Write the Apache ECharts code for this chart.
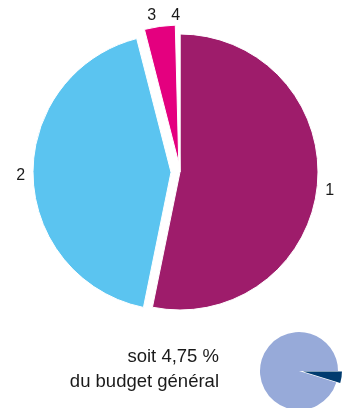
<!DOCTYPE html>
<html>
<head>
<meta charset="utf-8">
<script src="https://cdn.jsdelivr.net/npm/echarts@6/dist/echarts.min.js"></script>
<style>
  html, body { margin: 0; padding: 0; background: #ffffff; }
  #chart { width: 346px; height: 408px; }
</style>
</head>
<body>
<div id="chart"></div>
<script>
// Budget breakdown by part (percent), drawn clockwise from 12 o'clock
const partNames = ['1', '2', '3', '4'];
const partValues = [53.2, 42.8, 3.6, 0.4];
const partColors = ['#9E1C6B', '#5BC4F0', '#E4007F', '#FFFFFF'];

// Share of the general budget
const shareName = ['part', 'reste'];
const shareValues = [4.75, 95.25];
const shareColors = ['#003B6F', '#97AAD9'];

const font = '"Liberation Sans", Arial, sans-serif';

// per-part label tweaks: line length and nudge
const labelLen = [6, 6, 11, 18];
const labelNudge = [[0, 4], [0, 0], [0, 0], [4, 0]];

const chart = echarts.init(document.getElementById('chart'), null, { renderer: 'canvas' });

const mainData = partNames.map((n, i) => ({
  name: n,
  value: partValues[i],
  selected: i === 1 || i === 2,
  itemStyle: { color: partColors[i] },
  label: { offset: labelNudge[i] },
  labelLine: { show: false, length: labelLen[i], length2: 0 }
}));

const shareData = shareName.map((n, i) => ({
  name: n,
  value: shareValues[i],
  selected: i === 0,
  itemStyle: { color: shareColors[i] }
}));

const shareText = 'soit ' + String(shareValues[0]).replace('.', ',') + ' %\ndu budget général';

chart.setOption({
  animation: false,
  series: [
    {
      type: 'pie',
      center: [180, 172],
      radius: [0, 138],
      startAngle: 90,
      clockwise: true,
      selectedMode: 'multiple',
      selectedOffset: 9,
      avoidLabelOverlap: false,
      silent: true,
      label: {
        show: true,
        position: 'outside',
        formatter: '{b}',
        color: '#1a1a1a',
        fontSize: 16,
        fontFamily: font,
        distanceToLabelLine: 2
      },
      labelLine: { show: false, length: 6, length2: 0 },
      itemStyle: { borderColor: '#ffffff', borderWidth: 1 },
      emphasis: { disabled: true },
      data: mainData
    },
    {
      type: 'pie',
      center: [299, 371],
      radius: [0, 39],
      startAngle: 0,
      clockwise: true,
      selectedMode: 'single',
      selectedOffset: 4,
      silent: true,
      label: { show: false },
      labelLine: { show: false },
      emphasis: { disabled: true },
      data: shareData
    }
  ],
  graphic: [
    {
      type: 'text',
      right: 127,
      top: 344,
      style: {
        text: shareText,
        textAlign: 'right',
        fill: '#1a1a1a',
        font: '18.5px ' + font,
        lineHeight: 25
      }
    }
  ]
});
</script>
</body>
</html>
